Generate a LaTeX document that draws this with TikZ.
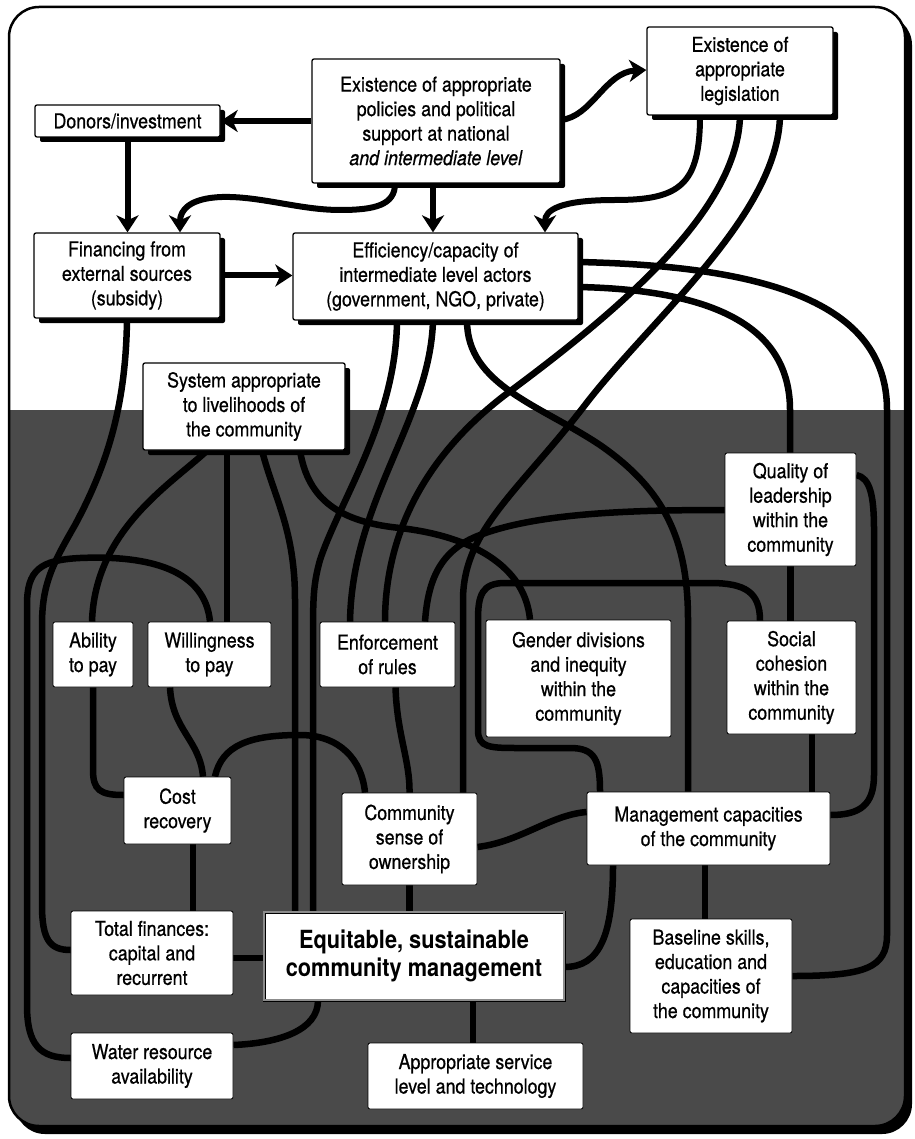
\documentclass[tikz,border=0pt]{standalone}
\usepackage{fontspec}
\setmainfont{TeX Gyre Heros}[FakeStretch=0.87,
  UprightFeatures={FakeBold=0.6}, ItalicFeatures={FakeBold=0.6}]
\usetikzlibrary{arrows.meta,shadows}
\pgfdeclarelayer{bg}
\pgfsetlayers{bg,main}
\definecolor{ground}{gray}{0.29}

\begin{document}
\begin{tikzpicture}[x=1pt,y=-1pt,
  box/.style={draw=black, line width=1.3pt, fill=white, rounded corners=2pt,
    align=center, inner sep=0pt, font=\fontsize{20.5}{24.5}\selectfont},
  upbox/.style={box, drop shadow={shadow xshift=5pt, shadow yshift=-5pt, fill=black, opacity=1}},
  lowbox/.style={box, line width=0.8pt},
  goalbox/.style={box, line width=0.8pt, double=black!45, double distance=1.4pt,
    rounded corners=0pt, font=\bfseries\fontsize{25}{28.5}\selectfont},
  link/.style={line width=6pt, -{Stealth[length=17pt,width=22pt,inset=5pt]}},
  tie/.style={line width=6.5pt}
]
\useasboundingbox (0,0) rectangle (914,1139);

% ---- factors ----
\node[upbox, minimum width=185pt, minimum height=32pt] (donors) at (127.5,121) {Donors/investment};
\node[upbox, minimum width=248pt, minimum height=124pt] (policy) at (436,121)
  {Existence of appropriate\\policies and political\\support at national\\\textit{and intermediate level}};
\node[upbox, minimum width=186pt, minimum height=88pt] (legis) at (740,71)
  {Existence of\\appropriate\\legislation};
\node[upbox, minimum width=186pt, minimum height=85pt] (finance) at (127,275.5)
  {Financing from\\external sources\\(subsidy)};
\node[upbox, minimum width=285pt, minimum height=87pt] (effic) at (435.5,276.5)
  {Efficiency/capacity of\\intermediate level actors\\(government, NGO, private)};
\node[upbox, minimum width=202pt, minimum height=87pt] (system) at (244,406.5)
  {System appropriate\\to livelihoods of\\the community};
\node[lowbox, minimum width=131pt, minimum height=113pt] (quality) at (790.5,509.5)
  {Quality of\\leadership\\within the\\community};
\node[lowbox, minimum width=80pt, minimum height=65pt] (ability) at (93,654.5) {Ability\\to pay};
\node[lowbox, minimum width=123pt, minimum height=65pt] (willing) at (209.5,654.5) {Willingness\\to pay};
\node[lowbox, minimum width=135pt, minimum height=65pt] (enforce) at (387.5,654.5) {Enforcement\\of rules};
\node[lowbox, minimum width=185pt, minimum height=117pt] (gender) at (578.5,678.5)
  {Gender divisions\\and inequity\\within the\\community};
\node[lowbox, minimum width=129pt, minimum height=113pt] (social) at (791.5,677.5)
  {Social\\cohesion\\within the\\community};
\node[lowbox, minimum width=107pt, minimum height=67pt] (cost) at (177.5,810.5) {Cost\\recovery};
\node[lowbox, minimum width=135pt, minimum height=92pt] (owner) at (409.5,839)
  {Community\\sense of\\ownership};
\node[lowbox, minimum width=243pt, minimum height=73pt] (mgmt) at (708.5,828.5)
  {Management capacities\\of the community};
\node[lowbox, minimum width=162pt, minimum height=84pt] (total) at (152,953)
  {Total finances:\\capital and\\recurrent};
\node[goalbox, minimum width=300pt, minimum height=88pt] (goal) at (414,956)
  {Equitable, sustainable\\community management};
\node[lowbox, minimum width=162pt, minimum height=114pt] (baseline) at (711,976)
  {Baseline skills,\\education and\\capacities of\\the community};
\node[lowbox, minimum width=162pt, minimum height=66pt] (water) at (152,1066)
  {Water resource\\availability};
\node[lowbox, minimum width=215pt, minimum height=66pt] (service) at (475.5,1076)
  {Appropriate service\\level and technology};

\begin{pgfonlayer}{bg}
  % frame with its shadow, white upper part and dark lower ground
  \fill[black, rounded corners=30pt] (15,15) rectangle (912,1134);
  \fill[white, rounded corners=30pt] (9,7) rectangle (905,1126);
  \begin{scope}
    \clip[rounded corners=30pt] (9,7) rectangle (905,1126);
    \fill[ground] (0,410) rectangle (914,1139);
  \end{scope}
  \draw[line width=2.5pt, rounded corners=30pt] (9,7) rectangle (905,1126);

  % ---- national and intermediate level ----
  \draw[link] (policy.west) -- (donors.east);
  \draw[link] (donors.south) -- (donors.south |- finance.north);
  \draw[link] ([xshift=-41pt]policy.south) .. controls (395,205) and (375,210) .. (340,210)
     .. controls (300,210) and (260,196) .. (222,197)
     .. controls (190,198) and (180,210) .. ([xshift=53pt]finance.north);
  \draw[link] ([xshift=-3pt]policy.south) -- ([xshift=-2.5pt]effic.north);
  \draw[link] ([yshift=1pt]policy.east) .. controls (592,117) and (605,72) .. ([yshift=1pt]legis.west);
  \draw[link] ([xshift=-40pt]legis.south) .. controls (700,185) and (680,200) .. (615,200)
     .. controls (560,200) and (545,210) .. ([xshift=109.5pt]effic.north);
  \draw[link] (finance.east) -- (finance.east -| effic.west);

  % ---- influences reaching the community ----
  \draw[tie] (legis.south) .. controls (738,210) and (620,310) .. (505,395)
     .. controls (420,460) and (385,540) .. ([xshift=-2.5pt]enforce.north);
  \draw[tie] ([xshift=40pt]legis.south) .. controls (778,215) and (650,320) .. (585,405)
     .. controls (520,490) and (463,530) .. (463,600) -- ([xshift=53.5pt]owner.north);
  \draw[tie] ([xshift=-38.5pt]effic.south) .. controls (396,420) and (340,500) .. (320,560)
     .. controls (313,585) and (313,600) .. (313,640) -- ([xshift=-101pt]goal.north);
  \draw[tie] ([xshift=-2.5pt]effic.south) .. controls (430,420) and (352,500) .. ([xshift=-37.5pt]enforce.north);
  \draw[tie] ([xshift=31.5pt]effic.south) .. controls (467,385) and (540,405) .. (600,445)
     .. controls (665,490) and (688,540) .. (688,620) -- ([xshift=-20.5pt]mgmt.north);
  \draw[tie] ([yshift=-10.5pt]effic.east) .. controls (720,290) and (790,330) .. (790,410)
     -- ([xshift=-0.5pt]quality.north);
  \draw[tie] ([yshift=14.5pt]effic.east) .. controls (760,266) and (887,300) .. (887,410)
     -- (887,935) .. controls (887,968) and (865,976) .. (baseline.east);
  \draw[tie] (finance.south) .. controls (126,400) and (110,460) .. (75,525)
     .. controls (52,565) and (42,585) .. (42,625) -- (42,905)
     .. controls (42,940) and (50,950) .. ([yshift=3pt]total.west);
  \draw[tie] ([yshift=8pt]water.west) .. controls (40,1058) and (27,1045) .. (27,1005)
     -- (27,605) .. controls (27,570) and (40,560) .. (80,558)
     .. controls (150,555) and (205,570) .. ([xshift=0.5pt]willing.north);

  % ---- within the community ----
  \draw[tie] ([xshift=-37pt]system.south) .. controls (170,485) and (95,530) .. ([xshift=-1pt]ability.north);
  \draw[tie] ([xshift=-17pt]system.south) -- ([xshift=17.5pt]willing.north);
  \draw[tie] ([xshift=18pt]system.south) .. controls (275,500) and (295,530) .. (295,600)
     -- ([xshift=-119pt]goal.north);
  \draw[tie] ([xshift=56pt]system.south) .. controls (308,500) and (340,522) .. (400,528)
     .. controls (470,536) and (525,565) .. ([xshift=-48.5pt]gender.north);
  \draw[tie] ([yshift=-0.5pt]quality.west) .. controls (640,510) and (540,512) .. (480,535)
     .. controls (440,550) and (428,580) .. ([xshift=37.5pt]enforce.north);
  \draw[tie] ([xshift=-31.5pt]social.north) .. controls (760,592) and (745,583) .. (710,583)
     -- (505,583) .. controls (482,583) and (478,595) .. (478,620) -- (478,730)
     .. controls (478,748) and (490,748) .. (520,748) -- (570,748)
     .. controls (595,748) and (600,760) .. ([xshift=-108.5pt]mgmt.north);
  \draw[tie] ([yshift=34.5pt]quality.east) .. controls (870,478) and (874,495) .. (874,530)
     -- (874,775) .. controls (874,805) and (860,815) .. ([yshift=13.5pt]mgmt.east);
  \draw[tie] (quality.south) -- ([xshift=-1pt]social.north);
  \draw[tie] ([xshift=20.5pt]social.south) -- ([xshift=103.5pt]mgmt.north);
  \draw[tie] ([xshift=-3.5pt]mgmt.south) -- ([xshift=-6pt]baseline.north);
  \draw[tie] ([xshift=-95.5pt]mgmt.south) .. controls (613,935) and (600,967) .. ([yshift=-11pt]goal.east);
  \draw[tie] ([yshift=-8pt]owner.east) .. controls (520,842) and (550,815) .. ([yshift=16.5pt]mgmt.west);
  \draw[tie] (owner.south) -- (owner.south |- goal.north);
  \draw[tie] ([xshift=8pt]enforce.south) .. controls (397,735) and (410,760) .. (owner.north);
  \draw[tie] ([xshift=37.5pt]cost.north) .. controls (222,745) and (250,735) .. (300,735)
     .. controls (340,735) and (362,760) .. ([xshift=-44.5pt]owner.north);
  \draw[tie] (ability.south) -- (93,770) .. controls (93,790) and (100,795) .. ([yshift=15.5pt]cost.west);
  \draw[tie] ([xshift=-39.5pt]willing.south) .. controls (172,730) and (200,740) .. ([xshift=25.5pt]cost.north);
  \draw[tie] ([xshift=15.5pt]cost.south) -- ([xshift=41pt]total.north);
  \draw[tie] ([yshift=-5pt]total.east) -- ([yshift=-2pt]goal.west);
  \draw[tie] ([yshift=21pt]water.east) .. controls (280,1043) and (318,1030) .. ([xshift=-96pt]goal.south);
  \draw[tie] ([xshift=59pt]goal.south) -- ([xshift=-2.5pt]service.north);
\end{pgfonlayer}
\end{tikzpicture}
\end{document}
